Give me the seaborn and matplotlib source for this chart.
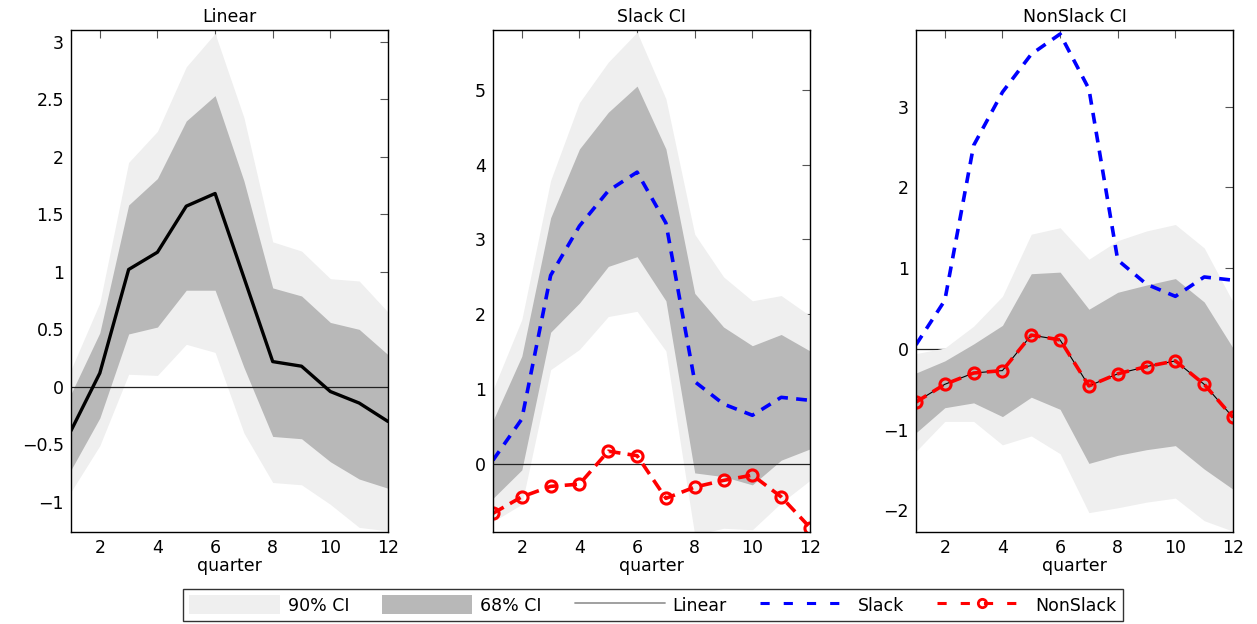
import numpy as np
import matplotlib
matplotlib.use("Agg")
import matplotlib.pyplot as plt
from matplotlib.patches import Patch
from matplotlib.lines import Line2D
from matplotlib.ticker import FuncFormatter, MultipleLocator
import seaborn as sns

# ---- data -------------------------------------------------------------
quarters = [1, 2, 3, 4, 5, 6, 7, 8, 9, 10, 11, 12]

linear_irf = [-0.38, 0.12, 1.02, 1.17, 1.57, 1.68, 0.95, 0.22, 0.18, -0.04, -0.14, -0.30]
linear_68_hi = [-0.06, 0.47, 1.58, 1.81, 2.31, 2.53, 1.79, 0.86, 0.79, 0.56, 0.50, 0.28]
linear_68_lo = [-0.72, -0.27, 0.46, 0.52, 0.84, 0.84, 0.17, -0.43, -0.45, -0.65, -0.80, -0.88]
linear_90_hi = [0.15, 0.73, 1.95, 2.22, 2.78, 3.07, 2.34, 1.26, 1.18, 0.94, 0.92, 0.65]
linear_90_lo = [-0.91, -0.51, 0.11, 0.10, 0.37, 0.30, -0.40, -0.83, -0.85, -1.02, -1.22, -1.25]

slack_irf = [0.05, 0.60, 2.52, 3.18, 3.65, 3.90, 3.22, 1.10, 0.80, 0.65, 0.89, 0.85]
slack_68_hi = [0.58, 1.44, 3.29, 4.21, 4.70, 5.05, 4.21, 2.28, 1.83, 1.58, 1.73, 1.51]
slack_68_lo = [-0.46, -0.08, 1.76, 2.15, 2.64, 2.77, 2.18, -0.12, -0.17, -0.28, 0.05, 0.20]
slack_90_hi = [0.99, 1.93, 3.79, 4.83, 5.37, 5.77, 4.88, 3.07, 2.50, 2.18, 2.25, 1.98]
slack_90_lo = [-0.77, -0.54, 1.26, 1.53, 1.97, 2.04, 1.51, -0.95, -0.86, -0.88, -0.52, -0.22]

nonslack_irf = [-0.66, -0.44, -0.30, -0.27, 0.17, 0.11, -0.46, -0.31, -0.22, -0.15, -0.44, -0.85]
nonslack_68_hi = [-0.30, -0.15, 0.06, 0.29, 0.93, 0.95, 0.49, 0.70, 0.79, 0.87, 0.58, 0.01]
nonslack_68_lo = [-1.04, -0.73, -0.67, -0.84, -0.60, -0.75, -1.42, -1.32, -1.25, -1.20, -1.49, -1.74]
nonslack_90_hi = [-0.06, 0.01, 0.28, 0.65, 1.42, 1.50, 1.11, 1.34, 1.46, 1.54, 1.25, 0.58]
nonslack_90_lo = [-1.27, -0.90, -0.90, -1.19, -1.08, -1.30, -2.03, -1.97, -1.90, -1.85, -2.13, -2.26]

titles = ["Linear", "Slack CI", "NonSlack CI"]
legend_labels = ["90% CI", "68% CI", "Linear", "Slack", "NonSlack"]

# ---- style ------------------------------------------------------------
sns.set_theme(style="white")
plt.rcParams["font.family"] = ["DejaVu Sans"]
plt.rcParams["axes.unicode_minus"] = True
plt.rcParams["text.color"] = "black"
plt.rcParams["axes.labelcolor"] = "black"

FS = 12.5
C90 = "#efefef"
C68 = "#b8b8b8"
BLUE = "#0000ff"
RED = "#ff0000"
DASH = (0, (3.0, 2.3))
RDASH = (0, (3.4, 2.0))

fig = plt.figure(figsize=(12.57, 6.24), dpi=100)
fig.patch.set_facecolor("white")

lefts = [71 / 1257, 493 / 1257, 916 / 1257]
width = 317 / 1257
bottom = 1 - 532 / 624
height = (532 - 30) / 624

ylims = [(-1.26, 3.10), (-0.91, 5.80), (-2.27, 3.95)]
ysteps = [0.5, 1.0, 1.0]

bands = [
    (linear_90_lo, linear_90_hi, linear_68_lo, linear_68_hi),
    (slack_90_lo, slack_90_hi, slack_68_lo, slack_68_hi),
    (nonslack_90_lo, nonslack_90_hi, nonslack_68_lo, nonslack_68_hi),
]

fmt = FuncFormatter(lambda v, p: ("%g" % round(v, 6)).replace("-", "\u2212"))

for i in range(3):
    ax = fig.add_axes([lefts[i], bottom, width, height])
    lo90, hi90, lo68, hi68 = bands[i]
    ax.fill_between(quarters, lo90, hi90, color=C90, lw=0, zorder=1)
    ax.fill_between(quarters, lo68, hi68, color=C68, lw=0, zorder=2)
    # zero reference line
    ax.axhline(0, color="#222222", lw=0.9, zorder=3 if i < 2 else 0.5)

    if i == 0:
        sns.lineplot(x=quarters, y=linear_irf, ax=ax, color="black", lw=2.4,
                     legend=False, zorder=4)
    else:
        if i == 2:
            sns.lineplot(x=quarters, y=nonslack_irf, ax=ax, color="black", lw=0.8,
                         legend=False, zorder=4)
        sns.lineplot(x=quarters, y=slack_irf, ax=ax, color=BLUE, lw=2.6,
                     linestyle=DASH, legend=False, zorder=5)
        sns.lineplot(x=quarters, y=nonslack_irf, ax=ax, color=RED, lw=2.6,
                     linestyle=RDASH, marker="o", markersize=8,
                     markerfacecolor="none", markeredgecolor=RED,
                     markeredgewidth=2.2, legend=False, zorder=5)

    ax.set_xlim(1, 12)
    ax.set_ylim(*ylims[i])
    ax.xaxis.set_major_locator(MultipleLocator(2))
    ax.yaxis.set_major_locator(MultipleLocator(ysteps[i]))
    ax.yaxis.set_major_formatter(fmt)
    ax.tick_params(direction="in", top=True, right=True, length=6, width=0.8,
                   color="#555555", labelsize=FS, pad=5, labelcolor="black")
    for s in ax.spines.values():
        s.set_color("black")
        s.set_linewidth(1.0)
        s.set_zorder(6)
    ax.set_title(titles[i], fontsize=FS, pad=6, color="black")
    ax.set_xlabel("quarter", fontsize=FS, labelpad=0, color="black")
    ax.set_ylabel("")
    ax.grid(False)

handles = [
    Patch(facecolor=C90, edgecolor="none"),
    Patch(facecolor=C68, edgecolor="none"),
    Line2D([], [], color="#999999", lw=1.3),
    Line2D([], [], color=BLUE, lw=2.2, linestyle=(0, (3.0, 4.6))),
    Line2D([], [], color=RED, lw=2.2, linestyle=(0, (3.0, 4.6)), marker="o",
           markersize=6, markerfacecolor="none", markeredgecolor=RED,
           markeredgewidth=2.0),
]
leg = fig.legend(handles, legend_labels, loc="center", ncol=5,
                 bbox_to_anchor=(653 / 1257, 1 - 605 / 624), fontsize=FS,
                 frameon=True, fancybox=False, edgecolor="black",
                 handlelength=5.2, handleheight=1.3, handletextpad=0.45,
                 columnspacing=1.9, borderpad=0.35, borderaxespad=0)
leg.get_frame().set_linewidth(1.0)
for t in leg.get_texts():
    t.set_color("black")

fig.savefig("out.png", dpi=100, facecolor="white")
